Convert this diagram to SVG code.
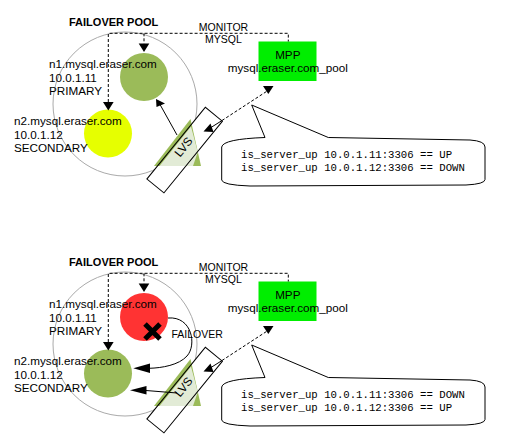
<svg xmlns="http://www.w3.org/2000/svg" width="506" height="446" viewBox="0 0 506 446">
<style>
.bg{fill:#ffffff}
.pool{fill:none;stroke:#aaaaaa;stroke-width:1}
.title{font-family:"Liberation Sans",Arial,sans-serif;font-size:11px;font-weight:bold;fill:#000}
.lbl{font-family:"Liberation Sans",Arial,sans-serif;font-size:11.7px;fill:#000}
.small{font-family:"Liberation Sans",Arial,sans-serif;font-size:10.5px;fill:#000}
.mono{font-family:"Liberation Mono","Courier New",monospace;font-size:10.67px;fill:#000}
.dash{fill:none;stroke:#000;stroke-width:1;stroke-dasharray:3 2}
.solid{fill:none;stroke:#000;stroke-width:1}
.head{fill:#000;stroke:none}
.green{fill:#9bbb59}
.red{fill:#ff3333}
.yellow{fill:#e6ff00}
.mpp{fill:#00ee00}
.tri{fill:#9bbb59}
.trilight{fill:#e2ebd6}
.boxfill{fill:#ffffff;stroke:none}
.boxline{fill:none;stroke:#000;stroke-width:1}
.bubble{fill:#ffffff;stroke:#000;stroke-width:1}
</style>
<defs>
<g id="lvsshape">
<rect class="boxfill" x="138.4" y="139.1" width="92.5" height="22" transform="rotate(-50.8 184.65 150.1)"/>
<polygon class="tri" points="154,166 190.5,119 201,166"/>
<polygon class="trilight" points="159.5,166 191,126.5 197.8,152 193,166"/>
<rect class="boxline" x="138.4" y="139.1" width="92.5" height="22" transform="rotate(-50.8 184.65 150.1)"/>
<text class="lbl" x="183.5" y="151" text-anchor="middle" font-size="11px" transform="rotate(-50.8 183.5 147)">LVS</text>
</g>
<path id="bubblepath" d="M221.7,147 Q223,139 265,137.5 L251.7,105 L328.3,137.5 L470,140 Q485,141 485,147 L485,179.5 Q485,184 466,185 L250,186 Q222,185 221.7,180 Z"/>
</defs>
<rect class="bg" x="0" y="0" width="506" height="446"/>

<!-- ============ TOP PANEL ============ -->
<g id="pool-top">
<circle class="pool" cx="125" cy="104" r="72"/>
<text class="title" x="69" y="25.5">FAILOVER POOL</text>
</g>
<g id="n1-top">
<circle class="green" cx="144" cy="77" r="24"/>
<text class="lbl" x="49" y="68">n1.mysql.eraser.com</text>
<text class="lbl" x="49" y="81.7">10.0.1.11</text>
<text class="lbl" x="49" y="95.3">PRIMARY</text>
</g>
<g id="n2-top">
<circle class="yellow" cx="108" cy="133.5" r="24"/>
<text class="lbl" x="14" y="125.2">n2.mysql.eraser.com</text>
<text class="lbl" x="14" y="138.8">10.0.1.12</text>
<text class="lbl" x="14" y="152.4">SECONDARY</text>
</g>
<g id="mpp-top">
<rect class="mpp" x="258.5" y="41.5" width="58" height="39.5"/>
<text class="lbl" x="287.8" y="59" text-anchor="middle">MPP</text>
<text class="lbl" x="287.8" y="72" text-anchor="middle">mysql.eraser.com_pool</text>
</g>
<g id="lvs-top">
<use href="#lvsshape"/>
</g>
<g id="callout-top">
<use href="#bubblepath" class="bubble"/>
<text class="mono" x="241" y="158.3">is_server_up 10.0.1.11:3306 == UP</text>
<text class="mono" x="241" y="170.8">is_server_up 10.0.1.12:3306 == DOWN</text>
</g>
<g id="connectors-top">
<path class="dash" d="M108.3,102 V33.3 H288.3 V41.5"/>
<path class="dash" d="M144,33.3 V43.5"/>
<polygon class="head" points="103,102 113.6,102 108.3,110.5"/>
<polygon class="head" points="138.7,43.5 149.3,43.5 144,52"/>
<text class="small" x="223.5" y="31" text-anchor="middle">MONITOR</text>
<text class="small" x="223.5" y="42.5" text-anchor="middle">MYSQL</text>
<line class="solid" x1="177" y1="135" x2="160" y2="104.5"/>
<polygon class="head" points="156,99 156.5,107 165,103.5"/>
<line class="solid" x1="211" y1="127.5" x2="222" y2="120.5"/>
<line class="dash" x1="222" y1="120.5" x2="268" y2="90.5"/>
<polygon class="head" points="203.5,131.5 210.5,123.5 213.5,132"/>
<polygon class="head" points="263,86 273.5,86 268.3,94"/>
</g>

<!-- ============ BOTTOM PANEL ============ -->
<g id="pool-bottom">
<circle class="pool" cx="125" cy="344" r="72"/>
<text class="title" x="69" y="265.5">FAILOVER POOL</text>
</g>
<g id="n1-bottom">
<circle class="red" cx="144" cy="317" r="24"/>
<text class="lbl" x="49" y="308">n1.mysql.eraser.com</text>
<text class="lbl" x="49" y="321.7">10.0.1.11</text>
<text class="lbl" x="49" y="335.3">PRIMARY</text>
<path d="M145,324 L160,339 M160,324 L145,339" stroke="#000" stroke-width="5" fill="none"/>
</g>
<g id="n2-bottom">
<circle class="green" cx="108" cy="373.5" r="24"/>
<text class="lbl" x="14" y="365.2">n2.mysql.eraser.com</text>
<text class="lbl" x="14" y="378.8">10.0.1.12</text>
<text class="lbl" x="14" y="392.4">SECONDARY</text>
</g>
<g id="mpp-bottom">
<rect class="mpp" x="258.5" y="281.5" width="58" height="39.5"/>
<text class="lbl" x="287.8" y="299" text-anchor="middle">MPP</text>
<text class="lbl" x="287.8" y="312" text-anchor="middle">mysql.eraser.com_pool</text>
</g>
<g id="lvs-bottom">
<use href="#lvsshape" transform="translate(0,240)"/>
</g>
<g id="callout-bottom">
<use href="#bubblepath" class="bubble" transform="translate(0,240)"/>
<text class="mono" x="241" y="398.3">is_server_up 10.0.1.11:3306 == DOWN</text>
<text class="mono" x="241" y="410.8">is_server_up 10.0.1.12:3306 == UP</text>
</g>
<g id="connectors-bottom">
<path class="dash" d="M108.3,342 V273.3 H288.3 V281.5"/>
<path class="dash" d="M144,273.3 V283.5"/>
<polygon class="head" points="103,342 113.6,342 108.3,350.5"/>
<polygon class="head" points="138.7,283.5 149.3,283.5 144,292"/>
<text class="small" x="223.5" y="271" text-anchor="middle">MONITOR</text>
<text class="small" x="223.5" y="282.5" text-anchor="middle">MYSQL</text>
<path class="solid" d="M168,318 C192,316 197,345 187,356 C179,365 162,368 149,368.3"/>
<polygon class="head" points="150,363.5 150,373 133.3,368.3"/>
<text class="small" x="171.5" y="338">FAILOVER</text>
<line class="solid" x1="177" y1="393" x2="146" y2="390.5"/>
<polygon class="head" points="146.5,386 146.5,394.5 130,390.3"/>
<line class="solid" x1="211" y1="367.5" x2="222" y2="360.5"/>
<line class="dash" x1="222" y1="360.5" x2="268" y2="330.5"/>
<polygon class="head" points="203.5,371.5 210.5,363.5 213.5,372"/>
<polygon class="head" points="263,326 273.5,326 268.3,334"/>
</g>
</svg>
